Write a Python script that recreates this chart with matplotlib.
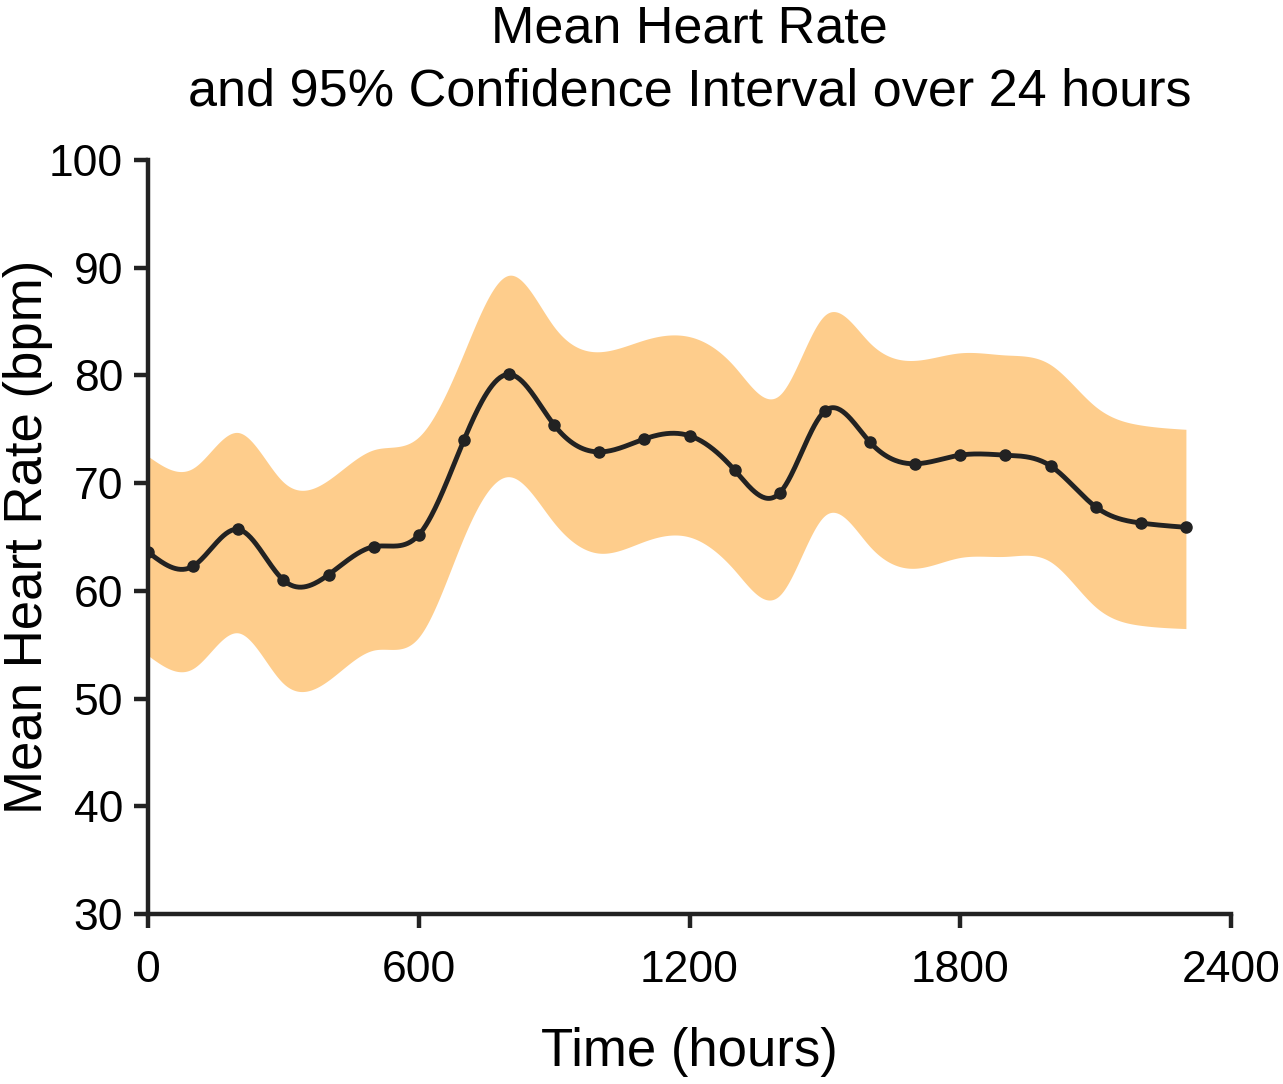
import numpy as np
from matplotlib import pyplot as plt

# hourly samples
hours = [0, 100, 200, 300, 400, 500, 600, 700, 800, 900, 1000, 1100,
         1200, 1300, 1400, 1500, 1600, 1700, 1800, 1900, 2000, 2100, 2200, 2300]
mean_hr = [63.6, 62.3, 65.7, 61.0, 61.5, 64.1, 65.2, 74.0, 80.1, 75.4, 72.9, 74.1,
           74.4, 71.2, 69.1, 76.7, 73.8, 71.8, 72.6, 72.6, 71.6, 67.8, 66.3, 65.9]
ci_upper = [72.5, 71.4, 74.7, 70.1, 70.3, 73.1, 74.3, 82.1, 89.3, 84.5, 82.2, 83.3,
            83.6, 80.8, 78.2, 85.6, 83.0, 81.4, 82.1, 81.9, 81.0, 77.1, 75.4, 75.0]
ci_lower = [54.0, 52.8, 56.1, 51.4, 51.7, 54.5, 55.7, 65.0, 70.6, 66.3, 63.5, 64.6,
            65.0, 61.9, 59.6, 67.0, 64.1, 62.1, 63.1, 63.2, 62.7, 58.5, 56.8, 56.5]


def natural_spline(x, y, xs):
    """Natural cubic spline through (x, y), evaluated at xs."""
    x = np.asarray(x, float)
    y = np.asarray(y, float)
    n = len(x)
    h = np.diff(x)
    A = np.zeros((n, n))
    b = np.zeros(n)
    A[0, 0] = A[-1, -1] = 1.0
    for i in range(1, n - 1):
        A[i, i - 1] = h[i - 1]
        A[i, i] = 2 * (h[i - 1] + h[i])
        A[i, i + 1] = h[i]
        b[i] = 6 * ((y[i + 1] - y[i]) / h[i] - (y[i] - y[i - 1]) / h[i - 1])
    m = np.linalg.solve(A, b)
    idx = np.clip(np.searchsorted(x, xs) - 1, 0, n - 2)
    x0, x1 = x[idx], x[idx + 1]
    hh = x1 - x0
    t0 = x1 - xs
    t1 = xs - x0
    return (m[idx] * t0 ** 3 / (6 * hh) + m[idx + 1] * t1 ** 3 / (6 * hh)
            + (y[idx] / hh - m[idx] * hh / 6) * t0
            + (y[idx + 1] / hh - m[idx + 1] * hh / 6) * t1)


plt.rcParams['font.family'] = ['Liberation Sans', 'DejaVu Sans']

fig = plt.figure(figsize=(12.83, 10.84), dpi=100)
ax = fig.add_axes([0.1154, 0.1568, 0.8441, 0.6956])

xs = np.linspace(hours[0], hours[-1], 800)
ax.fill_between(xs, natural_spline(hours, ci_lower, xs), natural_spline(hours, ci_upper, xs),
                color='#fecd8c', linewidth=0)
ax.plot(xs, natural_spline(hours, mean_hr, xs), color='#222222', lw=3.5)
ax.plot(hours, mean_hr, 'o', color='#222222', ms=8)

ax.set_xlim(0, 2400)
ax.set_ylim(30, 100)
ax.set_xticks([0, 600, 1200, 1800, 2400])
ax.set_yticks(range(30, 101, 10))

for side in ['top', 'right']:
    ax.spines[side].set_visible(False)
for side in ['left', 'bottom']:
    ax.spines[side].set_linewidth(3.2)
    ax.spines[side].set_color('#222222')
ax.tick_params(axis='both', width=3.2, length=10, color='#222222', labelsize=32)
ax.tick_params(axis='x', pad=16)
ax.tick_params(axis='y', pad=8)

ax.set_xlabel('Time (hours)', fontsize=38, labelpad=26)
ax.set_ylabel('Mean Heart Rate (bpm)', fontsize=38)
ax.yaxis.set_label_coords(-0.088, 0.5)
ax.set_title('Mean Heart Rate\nand 95% Confidence Interval over 24 hours',
             fontsize=37.5, pad=39, linespacing=1.38)

fig.savefig('out.png', dpi=100)
